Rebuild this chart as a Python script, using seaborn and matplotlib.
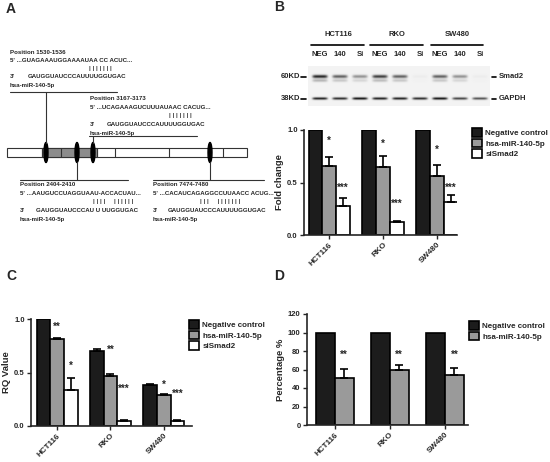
import numpy as np
import pandas as pd
import matplotlib
matplotlib.use('Agg')
import matplotlib.pyplot as plt
import seaborn as sns
from matplotlib.patches import Rectangle, Ellipse, Patch

# ---------------- data ----------------
cells = ['HCT116', 'RKO', 'SW480']
groups3 = ['Negative control', 'hsa-miR-140-5p', 'siSmad2']
groups2 = ['Negative control', 'hsa-miR-140-5p']

# Panel B: Smad2 protein fold change
b_neg = [1.0, 1.0, 1.0]
b_neg_err = [0.0, 0.0, 0.0]
b_mir = [0.66, 0.65, 0.565]
b_mir_err = [0.085, 0.10, 0.105]
b_si = [0.28, 0.125, 0.315]
b_si_err = [0.07, 0.005, 0.065]
b_stars_mir = ['*', '*', '*']
b_stars_si = ['***', '***', '***']
b_star_y_mir = [0.91, 0.89, 0.83]
b_star_y_si = [0.47, 0.31, 0.47]

# Panel C: RQ value
c_neg = [1.0, 0.70, 0.38]
c_neg_err = [0.0, 0.02, 0.01]
c_mir = [0.81, 0.467, 0.287]
c_mir_err = [0.01, 0.02, 0.012]
c_si = [0.334, 0.05, 0.05]
c_si_err = [0.115, 0.008, 0.005]
c_stars_mir = ['**', '**', '*']
c_stars_si = ['*', '***', '***']
c_star_y_mir = [0.94, 0.73, 0.40]
c_star_y_si = [0.58, 0.36, 0.32]

# Panel D: percentage
d_neg = [100, 100, 100]
d_neg_err = [0, 0, 0]
d_mir = [50.6, 59.6, 54.5]
d_mir_err = [10.4, 5.4, 6.9]
d_stars_mir = ['**', '**', '**']
d_star_y_mir = [78, 78, 78]

# Western blot
lane_labels = ['NEG', '140', 'Si', 'NEG', '140', 'Si', 'NEG', '140', 'Si']
smad2_bands = [0.85, 0.6, 0.4, 0.75, 0.6, 0.03, 0.6, 0.4, 0.03]
gapdh_bands = [0.85, 0.8, 0.9, 0.85, 0.85, 0.8, 0.9, 0.7, 0.65]

# Panel A sites
site_titles = ['Position 1530-1536', 'Position 3167-3173', 'Position 2404-2410', 'Position 7474-7480']
site_utr = ["5' ...GUAGAAAUGGAAAAUAA CC ACUC...",
            "5' ...UCAGAAAGUCUUUAUAAC CACUG...",
            "5' ...AAUGUCCUAGGUAAU-ACCACUAU...",
            "5' ...CACAUCAGAGGCCUUAACC ACUG..."]
site_pairs = ['| | | | | | |', '| | | | | | |', '| | | |     | | | | | |', '| | |     | | | | | | |']
site_mir = ['GAUGGUAUCCCAUUUUGGUGAC', 'GAUGGUAUCCCAUUUUGGUGAC',
            'GAUGGUAUCCCAU U UUGGUGAC', 'GAUGGUAUCCCAUUUUGGUGAC']
mir_name = 'hsa-miR-140-5p'

# ---------------- style ----------------
sns.set_style('ticks')
plt.rcParams['font.family'] = ['Liberation Sans', 'DejaVu Sans']
plt.rcParams['font.weight'] = 'bold'

W, H = 550, 462
fig = plt.figure(figsize=(W / 100, H / 100), dpi=100)


def px_rect(l, t, r, b):
    return [l / W, 1 - b / H, (r - l) / W, (b - t) / H]


ax0 = fig.add_axes([0, 0, 1, 1])
ax0.set_xlim(0, W)
ax0.set_ylim(H, 0)
ax0.axis('off')

# panel letters
for lab, (x, y) in zip('ABCD', [(11, 9), (279, 7), (11, 276), (279, 276)]):
    ax0.text(x, y, lab, fontsize=10, fontweight='bold', ha='center', va='center')

# ---------------- Panel A ----------------
fsA = 4.4
lc = '#333333'
ax0.add_patch(Rectangle((7, 148), 240, 9, facecolor='white', edgecolor=lc, lw=0.8))
ax0.add_patch(Rectangle((42, 148), 55, 9, facecolor='#8c8c8c', edgecolor=lc, lw=0.8))
for xd in [42, 61, 97, 115, 169, 223]:
    ax0.plot([xd, xd], [148, 157], color=lc, lw=0.8)
for xo in [46, 77, 93, 210]:
    ax0.add_patch(Ellipse((xo, 152.5), 4, 20, facecolor='black', edgecolor='black'))

ax0.plot([10, 117], [91.5, 91.5], color=lc, lw=0.8)
ax0.plot([46, 46], [91.5, 143], color=lc, lw=0.8)
ax0.plot([89, 197], [135.7, 135.7], color=lc, lw=0.8)
ax0.plot([93, 93], [135.7, 143], color=lc, lw=0.8)
ax0.plot([20, 128], [180, 180], color=lc, lw=0.8)
ax0.plot([77, 77], [162, 180], color=lc, lw=0.8)
ax0.plot([153, 264], [180, 180], color=lc, lw=0.8)
ax0.plot([210, 210], [162, 180], color=lc, lw=0.8)

blocks = [  # (x0, y_title, x_pairs, x_seq)
    (10, 52, 89, 28),
    (90, 99, 169, 107),
    (20, 185, 93, 36),
    (153, 185, 200, 168),
]
for i, (x0, yt, xp, xs) in enumerate(blocks):
    ax0.text(x0, yt, site_titles[i], fontsize=fsA, va='center', ha='left')
    ax0.text(x0, yt + 8.5, site_utr[i], fontsize=fsA, va='center', ha='left')
    ax0.text(xp, yt + 16.5, site_pairs[i], fontsize=fsA, va='center', ha='left')
    ax0.text(x0, yt + 25, "3'", fontsize=fsA, va='center', ha='left')
    ax0.text(xs, yt + 25, site_mir[i], fontsize=fsA, va='center', ha='left')
    ax0.text(x0, yt + 34, mir_name, fontsize=fsA, va='center', ha='left')

# ---------------- Panel B blot ----------------
fsB = 5.5
header_x = [338, 397, 457]
for cx, name in zip(header_x, cells):
    ax0.text(cx, 35, name, fontsize=fsB, ha='center', va='center')
for (l, r) in [(311, 364), (370, 423), (431, 483)]:
    ax0.plot([l, r], [45.3, 45.3], color='black', lw=1.2)
lane_x = np.linspace(320, 480, len(lane_labels))
for lx, ll in zip(lane_x, lane_labels):
    ax0.text(lx, 55, ll, fontsize=fsB, ha='center', va='center')

bx0, bx1, by0, by1 = 308, 490, 66, 106
xs_img = np.arange(bx0, bx1) + 0.5
ys_img = np.arange(by0, by1) + 0.5
XX, YY = np.meshgrid(xs_img, ys_img)
dark = np.zeros_like(XX)
for lx, s, g in zip(lane_x, smad2_bands, gapdh_bands):
    hprof = np.exp(-((XX - lx) / 7.5) ** 6)
    dark += s * hprof * (np.exp(-((YY - 76.5) / 1.7) ** 2) + 0.3 * np.exp(-((YY - 80.5) / 1.5) ** 2))
    dark += g * hprof * np.exp(-((YY - 98.5) / 1.3) ** 2)
img = np.clip(0.95 - 0.9 * dark, 0, 1)
ax0.imshow(img, cmap='gray', vmin=0, vmax=1, extent=[bx0, bx1, by1, by0],
           interpolation='bilinear', aspect='auto', zorder=1)
ax0.set_xlim(0, W)
ax0.set_ylim(H, 0)
ax0.text(300, 77, '60KD', fontsize=fsB, ha='right', va='center')
ax0.plot([301, 306], [77, 77], color='black', lw=1.2)
ax0.text(300, 99, '38KD', fontsize=fsB, ha='right', va='center')
ax0.plot([301, 306], [99, 99], color='black', lw=1.2)
ax0.plot([492, 496], [77, 77], color='black', lw=1.2)
ax0.text(499, 77, 'Smad2', fontsize=fsB, ha='left', va='center')
ax0.plot([492, 496], [99, 99], color='black', lw=1.2)
ax0.text(499, 99, 'GAPDH', fontsize=fsB, ha='left', va='center')

# ---------------- bar panels ----------------
colors = ['#1c1c1c', '#9a9a9a', '#ffffff']


def bar_panel(rect, xlim, ylim, yticks, yfmt, ylabel, groups, means, errs,
              stars, star_y, width, legend_xy):
    ax = fig.add_axes(px_rect(*rect))
    rows = []
    for g, m in zip(groups, means):
        for c, v in zip(cells, m):
            rows.append({'cell': c, 'group': g, 'value': v})
    df = pd.DataFrame(rows)
    pal = dict(zip(groups, colors[:len(groups)]))
    sns.barplot(data=df, x='cell', y='value', hue='group', order=cells,
                hue_order=groups, palette=pal, width=width, errorbar=None,
                edgecolor='black', linewidth=1.2, saturation=1, legend=False, ax=ax)
    bar_conts = list(ax.containers)[:len(groups)]
    for gi, cont in enumerate(bar_conts):
        for ci, bar in enumerate(list(cont.patches)):
            x = bar.get_x() + bar.get_width() / 2
            top = bar.get_height()
            e = errs[gi][ci]
            if e > 0:
                ax.errorbar([x], [top], yerr=[[0], [e]], fmt='none', ecolor='black',
                            elinewidth=1.2, capsize=3, capthick=1.2, zorder=3)
            if stars[gi] is not None:
                ax.annotate(stars[gi][ci], (x, star_y[gi][ci]), xytext=(0, -3.5),
                            textcoords='offset points', ha='center', va='baseline',
                            fontsize=7, annotation_clip=False)
    ax.set_xlim(*xlim)
    ax.set_ylim(*ylim)
    ax.set_yticks(yticks)
    ax.set_yticklabels([yfmt.format(t) for t in yticks], fontsize=5.5, fontweight='bold')
    ax.set_xticks(range(len(cells)))
    ax.set_xticklabels(cells, rotation=45, ha='right', rotation_mode='anchor',
                       fontsize=5.8, fontweight='bold')
    ax.set_xlabel('')
    ax.set_ylabel(ylabel, fontsize=6.8, fontweight='bold', labelpad=2)
    ax.tick_params(axis='both', direction='out', length=3, width=1.0, pad=1.5)
    for sp in ['top', 'right']:
        ax.spines[sp].set_visible(False)
    for sp in ['left', 'bottom']:
        ax.spines[sp].set_linewidth(1.2)
    ax.set_facecolor('none')
    handles = [Patch(facecolor=colors[i], edgecolor='black', linewidth=1.2, label=g)
               for i, g in enumerate(groups)]
    ax.legend(handles=handles, loc='upper left',
              bbox_to_anchor=(legend_xy[0] / W, 1 - legend_xy[1] / H),
              bbox_transform=fig.transFigure, frameon=False,
              prop={'weight': 'bold', 'size': 5.8},
              handlelength=1.3, handleheight=1.3, handletextpad=0.35,
              labelspacing=0.2, borderpad=0, borderaxespad=0)
    return ax


bar_panel((304, 130, 457, 235), (-0.47, 2.37), (0, 1), [0.0, 0.5, 1.0], '{:.1f}',
          'Fold change', groups3, [b_neg, b_mir, b_si], [b_neg_err, b_mir_err, b_si_err],
          [None, b_stars_mir, b_stars_si], [None, b_star_y_mir, b_star_y_si], 0.77,
          (472, 128))

bar_panel((31, 319, 192, 426), (-0.49, 2.53), (0, 1), [0.0, 0.5, 1.0], '{:.1f}',
          'RQ Value', groups3, [c_neg, c_mir, c_si], [c_neg_err, c_mir_err, c_si_err],
          [None, c_stars_mir, c_stars_si], [None, c_star_y_mir, c_star_y_si], 0.77,
          (189, 320))

bar_panel((307, 314, 468, 425), (-0.5, 2.42), (0, 120), [0, 20, 40, 60, 80, 100, 120], '{:d}',
          'Percentage %', groups2, [d_neg, d_mir], [d_neg_err, d_mir_err],
          [None, d_stars_mir], [None, d_star_y_mir], 0.69,
          (469, 321))

fig.savefig('out.png', dpi=100)
